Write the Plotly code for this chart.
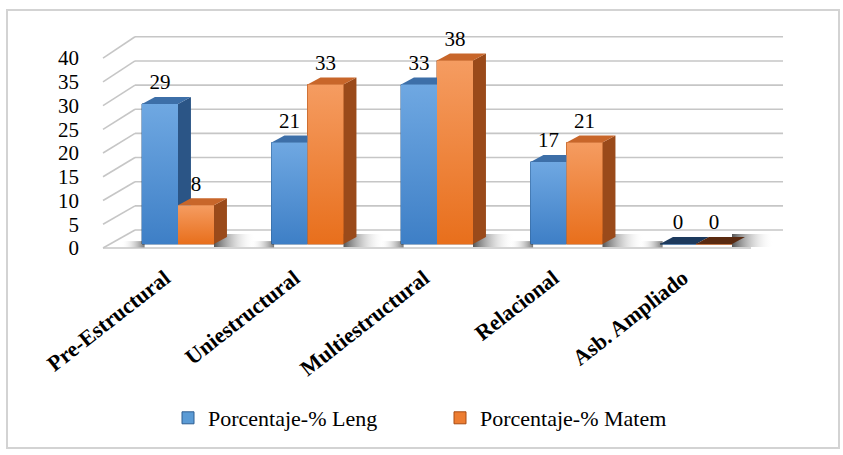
import plotly.graph_objects as go

# ---------------- data ----------------
categories = ["Pre-Estructural", "Uniestructural", "Multiestructural", "Relacional", "Asb. Ampliado"]
leng = [29, 21, 33, 17, 0]
matem = [8, 33, 38, 21, 0]
series_names = ["Porcentaje-% Leng", "Porcentaje-% Matem"]
y_ticks = [0, 5, 10, 15, 20, 25, 30, 35, 40]

# ---------------- geometry (pixels -> axis ranges) ----------------
W, H = 843, 455
ML, MB = 90, 203
PW, PH = W - ML, H - MB
XU, X0PX = 129.5, 178.0      # px per category, px of first category
YU, Y0PX = 4.83, 244.0       # px per value unit, px of bar base
x_range = [-(X0PX - ML) / XU, -(X0PX - ML) / XU + PW / XU]
y_range = [-(PH - Y0PX) / YU, -(PH - Y0PX) / YU + PH / YU]

BW = 0.278           # bar front width (category units)
DX, DY = 0.10, 1.45  # 3D depth offset
WALL_DY = 2.9        # back wall offset
WALL_X0, WALL_X1 = -0.332, 4.672
FRONT_X0, FRONT_X1 = -0.579, 4.425
FRONT_Y0, FRONT_K = -0.83, 0.983

def px2paper(px, py):
    return (px - ML) / PW, (PH - py) / PH

fig = go.Figure()

# ---------------- walls / gridlines as shapes below traces ----------------
shapes = []
gc = "#c6c6c6"
for v in y_ticks:
    shapes.append(dict(type="line", xref="x", yref="y", layer="below",
                       x0=WALL_X0, x1=WALL_X1, y0=v + WALL_DY, y1=v + WALL_DY,
                       line=dict(color=gc, width=1.6)))
    shapes.append(dict(type="line", xref="x", yref="y", layer="below",
                       x0=FRONT_X0, x1=WALL_X0, y0=FRONT_Y0 + FRONT_K * v, y1=v + WALL_DY,
                       line=dict(color=gc, width=1.6)))
shapes.append(dict(type="line", xref="x", yref="y", layer="below",
                   x0=FRONT_X0, x1=FRONT_X1, y0=FRONT_Y0, y1=FRONT_Y0,
                   line=dict(color=gc, width=1.6)))
# outer chart border
bx0, by0 = px2paper(7, 10)
bx1, by1 = px2paper(839, 448)
shapes.append(dict(type="rect", xref="paper", yref="paper", layer="below",
                   x0=bx0, x1=bx1, y0=by1, y1=by0,
                   line=dict(color="#d3d3d3", width=2), fillcolor="rgba(0,0,0,0)"))

# ---------------- base bars (legend carriers) ----------------
blue_mid, orange_mid = "#5b9bd5", "#ed7d31"
fig.add_trace(go.Bar(x=[i - BW / 2 for i in range(len(categories))], y=leng, width=BW,
                     name=series_names[0], marker=dict(color=blue_mid, line=dict(color="#2f5f92", width=1)),
                     hoverinfo="skip"))
fig.add_trace(go.Bar(x=[i + BW / 2 for i in range(len(categories))], y=matem, width=BW,
                     name=series_names[1], marker=dict(color=orange_mid, line=dict(color="#a94c12", width=1)),
                     hoverinfo="skip"))

def poly(xs, ys, color=None, grad=None):
    kw = dict(x=xs + [xs[0]], y=ys + [ys[0]], mode="lines", fill="toself",
              line=dict(width=0), showlegend=False, hoverinfo="skip")
    if grad is not None:
        kw["fillgradient"] = grad
    else:
        kw["fillcolor"] = color
    fig.add_trace(go.Scatter(**kw))

# shadows on the floor
for i in range(len(categories)):
    xl = i - BW
    xr = i + BW
    poly([xr, xr + DX + 0.22, xr + DX + 0.22, xr],
         [-0.6, -0.6, DY + 0.6, DY + 0.6],
         grad=dict(type="horizontal", colorscale=[[0, "rgba(30,30,30,0.75)"], [1, "rgba(255,255,255,0)"]]))
    poly([xl - 0.16, xl + 0.02, xl + 0.02, xl - 0.16],
         [-0.7, -0.7, 0.6, 0.6],
         grad=dict(type="horizontal", colorscale=[[0, "rgba(255,255,255,0)"], [1, "rgba(30,30,30,0.6)"]]))

styles = [
    dict(front=[[0, "#3e7fc6"], [1, "#6fa8e2"]], top="#3d6fa8", side="#2b5586", flat="#1d3a5d"),
    dict(front=[[0, "#e86f1c"], [1, "#f59c61"]], top="#c8662a", side="#9a4a1a", flat="#5a2a10"),
]

for i in range(len(categories)):
    for s, (vals, off) in enumerate([(leng, -BW), (matem, 0.0)]):
        v = vals[i]
        st = styles[s]
        xl = i + off
        xr = xl + BW
        if v > 0:
            poly([xr, xr + DX, xr + DX, xr], [0, DY, v + DY, v], color=st["side"])
            poly([xl, xr, xr + DX, xl + DX], [v, v, v + DY, v + DY], color=st["top"])
            poly([xl, xr, xr, xl], [0, 0, v, v],
                 grad=dict(type="vertical", colorscale=st["front"], start=0, stop=v))
        else:
            poly([xl, xr, xr + DX, xl + DX], [0, 0, DY, DY], color=st["flat"])

# data labels
for s, (vals, off) in enumerate([(leng, -BW / 2), (matem, BW / 2)]):
    fig.add_trace(go.Scatter(
        x=[i + off for i in range(len(categories))], y=[v + DY + 2.7 for v in vals],
        mode="text", text=[str(v) for v in vals], textposition="middle center",
        textfont=dict(family="Liberation Serif", size=21, color="#000000"),
        showlegend=False, hoverinfo="skip", cliponaxis=False))

lx, ly = px2paper(168, 418)
fig.update_layout(
    width=W, height=H,
    margin=dict(l=ML, r=0, t=0, b=MB),
    paper_bgcolor="white", plot_bgcolor="rgba(0,0,0,0)",
    shapes=shapes,
    barmode="overlay",
    xaxis=dict(range=x_range, showgrid=False, zeroline=False, showline=False,
               tickmode="array", tickvals=list(range(len(categories))), ticktext=categories,
               tickangle=-38, ticks="", ticklabelshift=-13, ticklabelstandoff=8,
               tickfont=dict(family="Liberation Serif", size=22, color="#000000", weight="bold")),
    yaxis=dict(range=y_range, showgrid=False, zeroline=False, showline=False,
               tickmode="array", tickvals=[FRONT_Y0 + FRONT_K * v for v in y_ticks],
               ticktext=[str(v) for v in y_ticks], ticks="", ticklabelstandoff=10,
               tickfont=dict(family="Liberation Serif", size=21, color="#000000")),
    legend=dict(orientation="h", x=lx, y=ly, xanchor="left", yanchor="middle",
                font=dict(family="Liberation Serif", size=22, color="#000000"),
                itemwidth=30, entrywidth=227, tracegroupgap=0, bgcolor="rgba(0,0,0,0)"),
    showlegend=True,
)

fig.write_html("out.html")
